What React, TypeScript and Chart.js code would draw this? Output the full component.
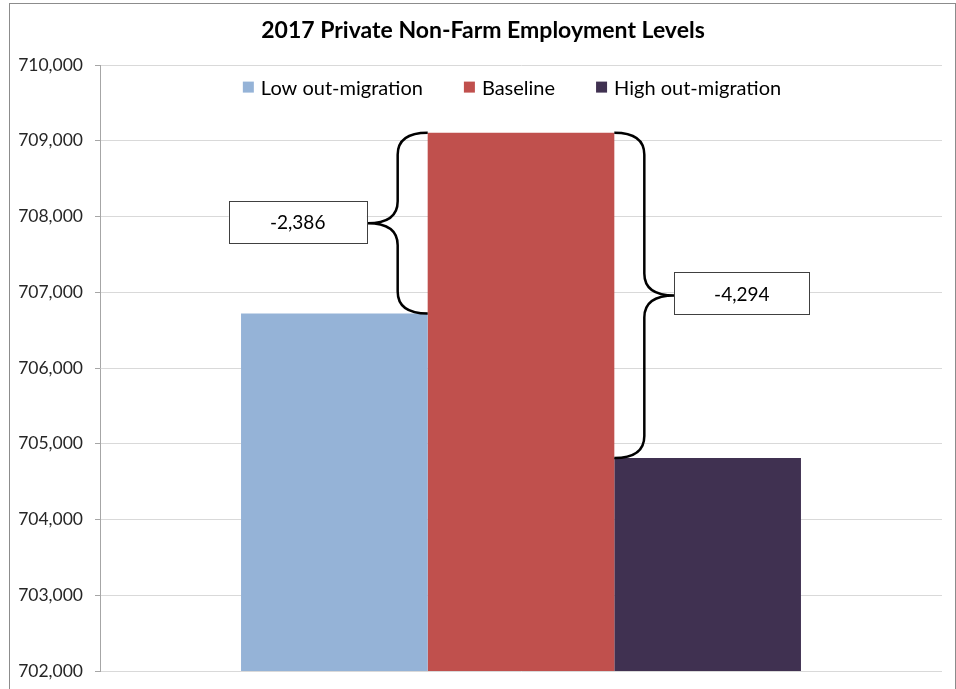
import React, { useEffect, useRef } from "react";
import { Chart, registerables } from "chart.js";

Chart.register(...registerables);

const chartTitle = "2017 Private Non-Farm Employment Levels";
const categories = ["2017"];
const seriesLabels = ["Low out-migration", "Baseline", "High out-migration"];
const seriesColors = ["#95B3D7", "#C0504D", "#403151"];
const lowValues = [706720];
const baselineValues = [709106];
const highValues = [704812];
const yMin = 702000;
const yMax = 710000;
const yStep = 1000;

const FONT = "Lato, 'Open Sans', sans-serif";

function drawBrace(ctx: CanvasRenderingContext2D, xEdge: number, dir: number, yTop: number, yBot: number) {
  const depth = 30;
  const r = 22;
  const xMid = xEdge + dir * depth;
  const xTip = xEdge + 2 * dir * depth;
  const yMid = (yTop + yBot) / 2;
  ctx.beginPath();
  ctx.moveTo(xEdge, yTop);
  ctx.quadraticCurveTo(xMid, yTop, xMid, yTop + r);
  ctx.lineTo(xMid, yMid - r);
  ctx.quadraticCurveTo(xMid, yMid, xTip, yMid);
  ctx.quadraticCurveTo(xMid, yMid, xMid, yMid + r);
  ctx.lineTo(xMid, yBot - r);
  ctx.quadraticCurveTo(xMid, yBot, xEdge, yBot);
  ctx.stroke();
  return { xTip, yMid };
}

function drawLabelBox(ctx: CanvasRenderingContext2D, x: number, yMid: number, w: number, text: string) {
  const h = 42;
  const y = yMid - h / 2;
  ctx.fillStyle = "#ffffff";
  ctx.fillRect(x, y, w, h);
  ctx.strokeStyle = "#404040";
  ctx.lineWidth = 1;
  ctx.strokeRect(Math.round(x) + 0.5, Math.round(y) + 0.5, w, h);
  ctx.fillStyle = "#000000";
  ctx.font = `19px ${FONT}`;
  ctx.textAlign = "center";
  ctx.textBaseline = "middle";
  ctx.fillText(text, x + w / 2, yMid + 1);
}

const bracePlugin = {
  id: "braces",
  afterDatasetsDraw(chart: any) {
    const ctx: CanvasRenderingContext2D = chart.ctx;
    const y = chart.scales.y;
    const base: any = chart.getDatasetMeta(1).data[0];
    const baseTop = y.getPixelForValue(baselineValues[0]);
    const lowTop = y.getPixelForValue(lowValues[0]);
    const highTop = y.getPixelForValue(highValues[0]);
    const leftEdge = base.x - base.width / 2;
    const rightEdge = base.x + base.width / 2;
    ctx.save();
    ctx.strokeStyle = "#000000";
    ctx.lineWidth = 2.5;
    const l = drawBrace(ctx, leftEdge, -1, baseTop, lowTop);
    const r = drawBrace(ctx, rightEdge, 1, baseTop, highTop);
    const lowDiff = (lowValues[0] - baselineValues[0]).toLocaleString("en-US");
    const highDiff = (highValues[0] - baselineValues[0]).toLocaleString("en-US");
    drawLabelBox(ctx, l.xTip - 139, l.yMid - 1, 138, lowDiff);
    drawLabelBox(ctx, r.xTip, r.yMid - 2, 135, highDiff);
    ctx.restore();
  },
};

const legendPlugin = {
  id: "customLegend",
  afterDraw(chart: any) {
    const ctx: CanvasRenderingContext2D = chart.ctx;
    const area = chart.chartArea;
    ctx.save();
    ctx.font = `20px ${FONT}`;
    const box = 11;
    const gapText = 7;
    const gapItem = 41;
    const items = chart.data.datasets.map((d: any) => ({
      label: d.label,
      color: d.backgroundColor,
      w: ctx.measureText(d.label).width,
    }));
    const total = items.reduce((s: number, it: any) => s + box + gapText + it.w, 0) + gapItem * (items.length - 1);
    let x = (area.left + area.right) / 2 - 9 - total / 2;
    const cy = area.top + 22;
    ctx.textAlign = "left";
    ctx.textBaseline = "middle";
    for (const it of items) {
      ctx.fillStyle = it.color;
      ctx.fillRect(x, cy - box / 2, box, box);
      x += box + gapText;
      ctx.fillStyle = "#000000";
      ctx.fillText(it.label, x, cy + 1);
      x += it.w + gapItem;
    }
    ctx.restore();
  },
};

const framePlugin = {
  id: "frame",
  beforeDraw(chart: any) {
    const ctx: CanvasRenderingContext2D = chart.ctx;
    ctx.save();
    ctx.fillStyle = "#ffffff";
    ctx.fillRect(0, 0, chart.width, chart.height);
    ctx.restore();
  },
  afterDraw(chart: any) {
    const ctx: CanvasRenderingContext2D = chart.ctx;
    ctx.save();
    ctx.strokeStyle = "#8c8c8c";
    ctx.lineWidth = 1;
    ctx.strokeRect(9.5, 3.5, 946, 720);
    ctx.restore();
  },
};

export default function App() {
  const ref = useRef<HTMLCanvasElement | null>(null);
  useEffect(() => {
    document.body.style.margin = "0";
    if (!ref.current) return;
    const chart = new Chart(ref.current, {
      type: "bar",
      data: {
        labels: categories,
        datasets: [
          { label: seriesLabels[0], data: lowValues, backgroundColor: seriesColors[0] },
          { label: seriesLabels[1], data: baselineValues, backgroundColor: seriesColors[1] },
          { label: seriesLabels[2], data: highValues, backgroundColor: seriesColors[2] },
        ].map((d) => ({ ...d, borderWidth: 0, categoryPercentage: 0.665, barPercentage: 1 })),
      },
      options: {
        responsive: false,
        animation: false,
        devicePixelRatio: 1,
        layout: { padding: { left: 12, right: 2, top: 0, bottom: 18 } },
        plugins: {
          legend: { display: false },
          tooltip: { enabled: false },
          title: {
            display: true,
            text: chartTitle,
            color: "#000000",
            font: { family: FONT, size: 23, weight: "bold" },
            padding: { top: 17, bottom: 20.5 },
          },
        },
        scales: {
          x: { display: false },
          y: {
            min: yMin,
            max: yMax,
            afterFit(scale: any) {
              scale.width = 88;
              scale.paddingTop = 0;
              scale.paddingBottom = 0;
            },
            ticks: {
              stepSize: yStep,
              color: "#262626",
              padding: 12,
              font: { family: FONT, size: 17.5 },
              callback: (v: any) => Number(v).toLocaleString("en-US"),
            },
            grid: { color: "#d9d9d9", tickColor: "#a6a6a6", tickLength: 5, lineWidth: 1 },
            border: { color: "#a6a6a6" },
          },
          yRight: {
            position: "right",
            display: true,
            min: yMin,
            max: yMax,
            afterFit(scale: any) {
              scale.width = 12;
              scale.paddingTop = 0;
              scale.paddingBottom = 0;
            },
            ticks: { display: false },
            grid: { display: false },
            border: { display: false },
          },
        },
      },
      plugins: [framePlugin, bracePlugin, legendPlugin],
    });
    return () => chart.destroy();
  }, []);
  return <canvas ref={ref} width={956} height={689} style={{ display: "block" }} />;
}
